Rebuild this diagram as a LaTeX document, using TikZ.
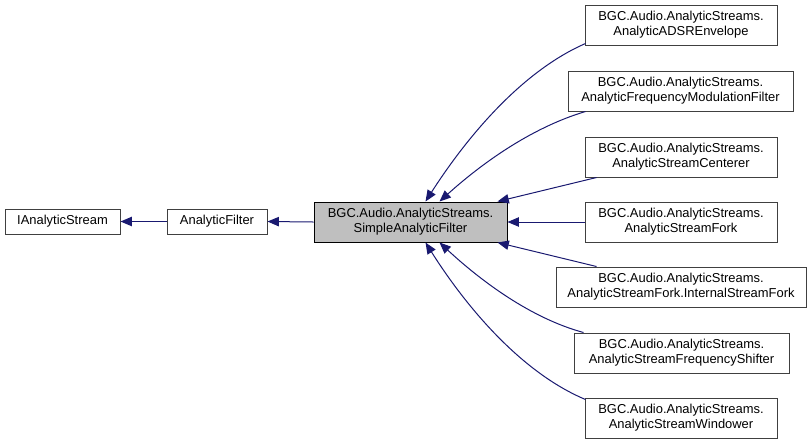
\documentclass[tikz,border=0pt]{standalone}
\usepackage{fontspec}
\setmainfont{Liberation Sans}
\usetikzlibrary{arrows.meta,calc}
\definecolor{edgeblue}{HTML}{191970}
\definecolor{boxgray}{HTML}{BFBFBF}
\definecolor{boxline}{HTML}{404040}
\tikzset{
  cls/.style={draw=boxline, line width=0.75pt, fill=white, align=center, inner xsep=2pt, inner ysep=0pt,
    font=\fontsize{9.7}{11.3}\selectfont, text=black},
  onel/.style={cls, minimum height=18.75pt},
  twol/.style={cls, minimum height=30pt},
  focus/.style={twol, fill=boxgray, draw=black},
  edge/.style={draw=edgeblue, line width=0.75pt, -{Triangle[length=8.5pt,width=7pt]}, fill=none}
}
\begin{document}
\begin{tikzpicture}[x=0.75pt,y=-0.75pt]
\useasboundingbox (0,0) rectangle (812,444);
\node[onel, minimum width=0.75*115pt] (ias) at (62.5,221.5) {IAnalyticStream};
\node[onel, minimum width=0.75*100pt] (af) at (217,221.5) {AnalyticFilter};
\node[focus, minimum width=0.75*193pt] (simple) at (410.5,222) {BGC.Audio.AnalyticStreams.\\SimpleAnalyticFilter};
\node[twol, minimum width=0.75*192pt] (adsr) at (681,25) {BGC.Audio.AnalyticStreams.\\AnalyticADSREnvelope};
\node[twol, minimum width=0.75*225pt] (fm) at (680.5,91) {BGC.Audio.AnalyticStreams.\\AnalyticFrequencyModulationFilter};
\node[twol, minimum width=0.75*192pt] (cent) at (681,157) {BGC.Audio.AnalyticStreams.\\AnalyticStreamCenterer};
\node[twol, minimum width=0.75*192pt] (fork) at (681,222) {BGC.Audio.AnalyticStreams.\\AnalyticStreamFork};
\node[twol, minimum width=0.75*250pt] (isf) at (681,287) {BGC.Audio.AnalyticStreams.\\AnalyticStreamFork.InternalStreamFork};
\node[twol, minimum width=0.75*215pt] (shift) at (681.5,353) {BGC.Audio.AnalyticStreams.\\AnalyticStreamFrequencyShifter};
\node[twol, minimum width=0.75*192pt] (wind) at (681,418) {BGC.Audio.AnalyticStreams.\\AnalyticStreamWindower};
\draw[edge] (af.west) -- (ias.east);
\draw[edge] (simple.west) -- (af.east);
\draw[edge] ($(adsr.south west)+(1,-2)$) .. controls (520,72) and (465,140) .. ($(simple.north west)+(112,0)$);
\draw[edge] ($(fm.south west)+(18,0)$) .. controls (530,128) and (480,165) .. ($(simple.north west)+(126,0)$);
\draw[edge] ($(cent.south west)+(12,0)$) -- ($(simple.north east)+(-10,0)$);
\draw[edge] (fork.west) -- (simple.east);
\draw[edge] ($(isf.north west)+(41,0)$) -- ($(simple.south east)+(-10,0)$);
\draw[edge] ($(shift.north west)+(10,0)$) .. controls (530,318) and (480,280) .. ($(simple.south west)+(126,0)$);
\draw[edge] ($(wind.north west)+(1,2)$) .. controls (520,372) and (465,305) .. ($(simple.south west)+(112,0)$);
\end{tikzpicture}
\end{document}
